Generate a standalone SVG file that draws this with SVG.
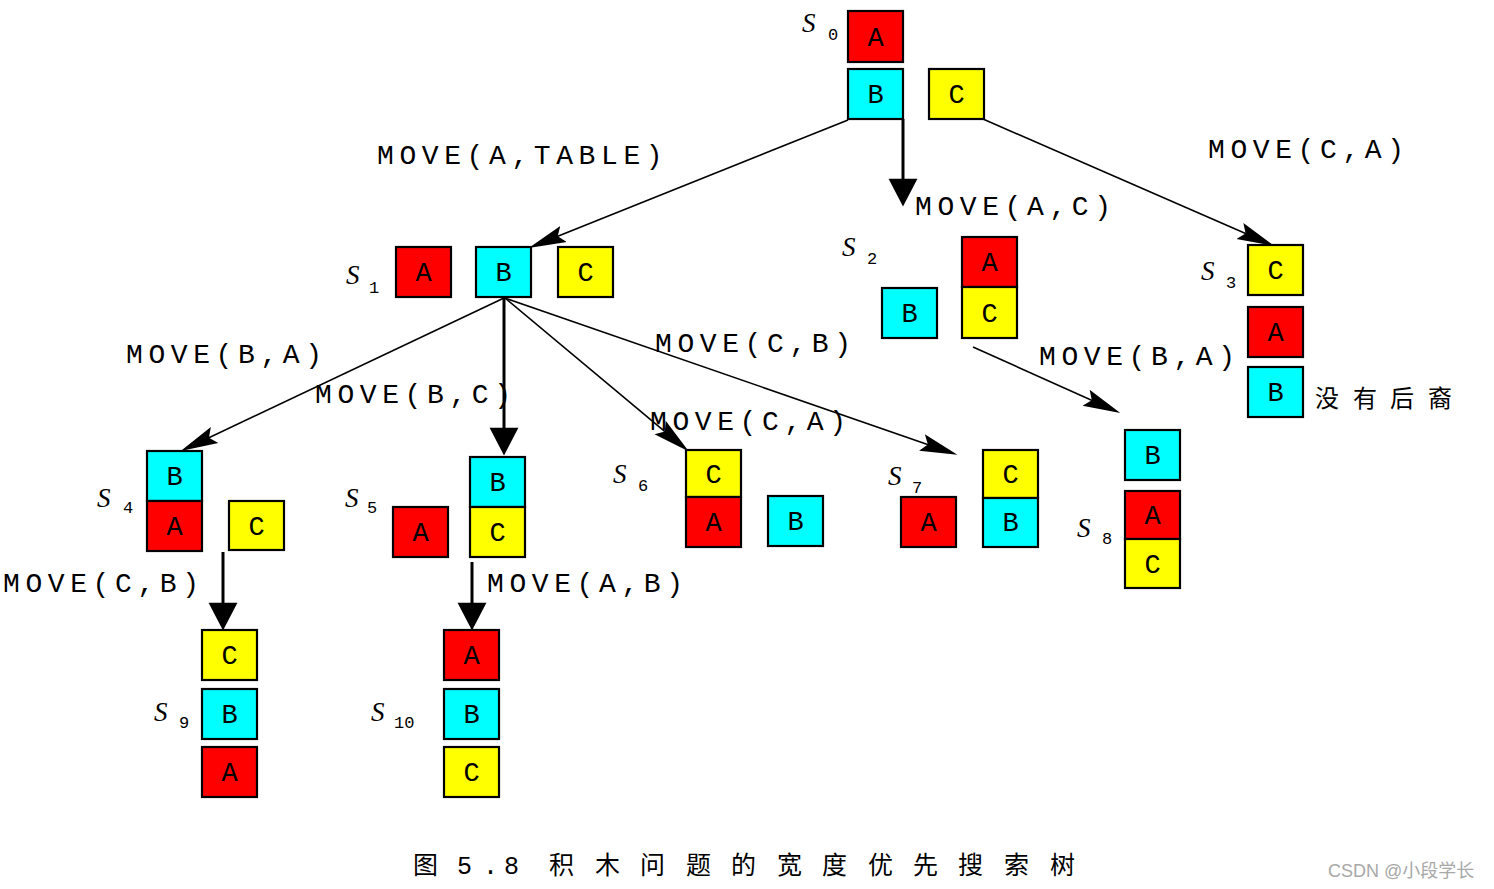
<svg xmlns="http://www.w3.org/2000/svg" width="1494" height="889" viewBox="0 0 1494 889">
<style>
rect.b{stroke:#000;stroke-width:2.2}
.r{fill:#ff0000}.c{fill:#00ffff}.y{fill:#ffff00}
text{fill:#000}
.L{font-family:"Liberation Mono","DejaVu Sans Mono",monospace;font-size:27px;text-anchor:middle}
.m{font-family:"Liberation Mono","DejaVu Sans Mono",monospace;font-size:28px;letter-spacing:5.6px}
.s{font-family:"Liberation Serif","DejaVu Serif",serif;font-style:italic;font-size:27px}
.n{font-family:"Liberation Mono","DejaVu Sans Mono",monospace;font-size:17px}
.thin{stroke:#000;stroke-width:1.6;fill:none;marker-end:url(#ah)}
.thick{stroke:#000;stroke-width:3;fill:none;marker-end:url(#AH)}
.cap{font-family:"Liberation Mono","Noto Sans CJK SC",monospace;font-size:25px}
.cn{font-family:"Noto Sans CJK SC",sans-serif;font-size:24px}
.wm{font-family:"Liberation Sans","Noto Sans CJK SC",sans-serif;font-size:18px;fill:#a8a8a8}
</style>
<defs>
<marker id="ah" markerUnits="userSpaceOnUse" markerWidth="40" markerHeight="20" viewBox="0 -8 32 16" refX="20" refY="0" orient="auto">
<path d="M0,-7 L30,0 L0,7 L5,0 Z" fill="#000"/>
</marker>
<marker id="AH" markerUnits="userSpaceOnUse" markerWidth="30" markerHeight="30" viewBox="0 -13 25 26" refX="14" refY="0" orient="auto">
<path d="M0,-12.5 L24,0 L0,12.5 Z" fill="#000"/>
</marker>
</defs>
<rect width="1494" height="889" fill="#fff"/>

<g id="connectors">
<path class="thin" d="M848,120 L540.3,243.3"/>
<path class="thin" d="M983,119 L1262.8,241"/>
<path class="thin" d="M504,298 L192,445.7"/>
<path class="thin" d="M505,298 L679.3,443.6"/>
<path class="thin" d="M505,298 L945.6,450.7"/>
<path class="thin" d="M973,347 L1108.9,407.9"/>
<path class="thick" d="M903,119 L903,195"/>
<path class="thick" d="M504,298 L504,444"/>
<path class="thick" d="M223,552 L223,619"/>
<path class="thick" d="M472,562 L472,619"/>
</g>

<g id="labels">
<text class="m" x="377" y="164">MOVE(A,TABLE)</text>
<text class="m" x="915" y="215">MOVE(A,C)</text>
<text class="m" x="1208" y="158">MOVE(C,A)</text>
<text class="m" x="126" y="363">MOVE(B,A)</text>
<text class="m" x="315" y="403">MOVE(B,C)</text>
<text class="m" x="655" y="352">MOVE(C,B)</text>
<text class="m" x="650" y="430">MOVE(C,A)</text>
<text class="m" x="1039" y="365">MOVE(B,A)</text>
<text class="m" x="3" y="592">MOVE(C,B)</text>
<text class="m" x="487" y="592">MOVE(A,B)</text>
</g>

<g id="s0">
<rect class="b r" x="848" y="11" width="55" height="51"/><text class="L" x="875.5" y="46">A</text>
<rect class="b c" x="848" y="69" width="55" height="50"/><text class="L" x="875.5" y="103">B</text>
<rect class="b y" x="929" y="69" width="55" height="50"/><text class="L" x="956.5" y="103">C</text>
<text class="s" x="802" y="32">S</text><text class="n" x="828" y="40">0</text>
</g>

<g id="s1">
<rect class="b r" x="396" y="247" width="55" height="50"/><text class="L" x="423.5" y="281">A</text>
<rect class="b c" x="476" y="247" width="55" height="50"/><text class="L" x="503.5" y="281">B</text>
<rect class="b y" x="558" y="247" width="55" height="50"/><text class="L" x="585.5" y="281">C</text>
<text class="s" x="346" y="284">S</text><text class="n" x="369" y="293">1</text>
</g>

<g id="s2">
<rect class="b r" x="962" y="237" width="55" height="50"/><text class="L" x="989.5" y="271">A</text>
<rect class="b y" x="962" y="287" width="55" height="51"/><text class="L" x="989.5" y="322">C</text>
<rect class="b c" x="882" y="288" width="55" height="50"/><text class="L" x="909.5" y="322">B</text>
<text class="s" x="842" y="256">S</text><text class="n" x="867" y="264">2</text>
</g>

<g id="s3">
<rect class="b y" x="1248" y="245" width="55" height="50"/><text class="L" x="1275.5" y="279">C</text>
<rect class="b r" x="1248" y="307" width="55" height="50"/><text class="L" x="1275.5" y="341">A</text>
<rect class="b c" x="1248" y="367" width="55" height="50"/><text class="L" x="1275.5" y="401">B</text>
<text class="s" x="1201" y="280">S</text><text class="n" x="1226" y="288">3</text>
<text class="cn" x="1315 1353 1390 1428" y="407">没有后裔</text>
</g>

<g id="s4">
<rect class="b c" x="147" y="451" width="55" height="50"/><text class="L" x="174.5" y="485">B</text>
<rect class="b r" x="147" y="501" width="55" height="50"/><text class="L" x="174.5" y="535">A</text>
<rect class="b y" x="229" y="501" width="55" height="49"/><text class="L" x="256.5" y="535">C</text>
<text class="s" x="97" y="507">S</text><text class="n" x="123" y="513">4</text>
</g>

<g id="s5">
<rect class="b r" x="393" y="507" width="55" height="50"/><text class="L" x="420.5" y="541">A</text>
<rect class="b c" x="470" y="457" width="55" height="50"/><text class="L" x="497.5" y="491">B</text>
<rect class="b y" x="470" y="507" width="55" height="50"/><text class="L" x="497.5" y="541">C</text>
<text class="s" x="345" y="507">S</text><text class="n" x="367" y="513">5</text>
</g>

<g id="s6">
<rect class="b y" x="686" y="450" width="55" height="47"/><text class="L" x="713.5" y="483">C</text>
<rect class="b r" x="686" y="497" width="55" height="50"/><text class="L" x="713.5" y="531">A</text>
<rect class="b c" x="768" y="496" width="55" height="50"/><text class="L" x="795.5" y="530">B</text>
<text class="s" x="613" y="483">S</text><text class="n" x="638" y="491">6</text>
</g>

<g id="s7">
<rect class="b r" x="901" y="497" width="55" height="50"/><text class="L" x="928.5" y="531">A</text>
<rect class="b y" x="983" y="450" width="55" height="48"/><text class="L" x="1010.5" y="483">C</text>
<rect class="b c" x="983" y="498" width="55" height="49"/><text class="L" x="1010.5" y="531">B</text>
<text class="s" x="888" y="485">S</text><text class="n" x="912" y="493">7</text>
</g>

<g id="s8">
<rect class="b c" x="1125" y="430" width="55" height="50"/><text class="L" x="1152.5" y="464">B</text>
<rect class="b r" x="1125" y="491" width="55" height="48"/><text class="L" x="1152.5" y="524">A</text>
<rect class="b y" x="1125" y="539" width="55" height="49"/><text class="L" x="1152.5" y="573">C</text>
<text class="s" x="1077" y="537">S</text><text class="n" x="1102" y="544">8</text>
</g>

<g id="s9">
<rect class="b y" x="202" y="630" width="55" height="50"/><text class="L" x="229.5" y="664">C</text>
<rect class="b c" x="202" y="689" width="55" height="50"/><text class="L" x="229.5" y="723">B</text>
<rect class="b r" x="202" y="747" width="55" height="50"/><text class="L" x="229.5" y="781">A</text>
<text class="s" x="154" y="721">S</text><text class="n" x="179" y="728">9</text>
</g>

<g id="s10">
<rect class="b r" x="444" y="630" width="55" height="50"/><text class="L" x="471.5" y="664">A</text>
<rect class="b c" x="444" y="689" width="55" height="50"/><text class="L" x="471.5" y="723">B</text>
<rect class="b y" x="444" y="747" width="55" height="50"/><text class="L" x="471.5" y="781">C</text>
<text class="s" x="371" y="721">S</text><text class="n" x="394" y="728">10</text>
</g>

<g id="caption">
<text class="cap" x="413 457 483 504 527 549 595 640 686 731 777 822 868 913 958 1004 1050" y="874">图5.8 积木问题的宽度优先搜索树</text>
<text class="wm" x="1328" y="877">CSDN @小段学长</text>
</g>
</svg>
